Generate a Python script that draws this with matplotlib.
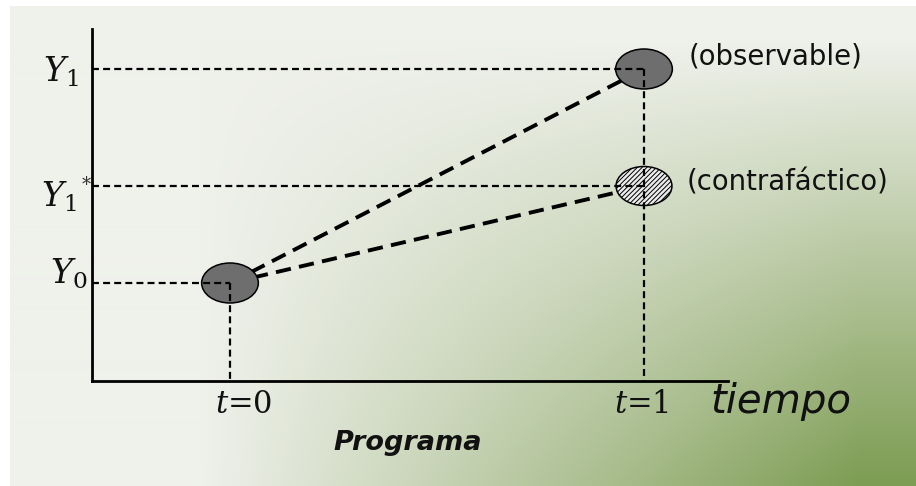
import numpy as np
import matplotlib.pyplot as plt
from matplotlib.patches import Ellipse

plt.rcParams['mathtext.fontset'] = 'dejavuserif'
plt.rcParams['lines.scale_dashes'] = False
plt.rcParams['hatch.linewidth'] = 0.7

# data: periods on x, outcome levels on y
periods = [0, 1]
period_labels = [r"$t$=0", r"$t$=1"]
point_x = [0, 1, 1]
point_y = [0.98, 3.12, 1.95]          # Y0, Y1 (observable), Y1* (contrafactico)
level_labels = [r"$Y_0$", r"$Y_1$", r"$Y_1$"]
point_notes = ["", "(observable)", "(contrafáctico)"]


def make_background(h=486, w=916):
    """ light grey to olive green, greener toward the bottom right """
    yy, xx = np.mgrid[0:h, 0:w]
    tx = np.clip((xx - 200) / 660.0, 0, 1)
    ty = np.clip((yy - 40) / 440.0, 0, 1)
    t = np.clip(tx * ty, 0, 1)[..., None]
    light = np.array([239, 241, 235]) / 255.0
    green = np.array([126, 157, 84]) / 255.0
    img = light * (1 - t) + green * t
    img[:7, :] = 1.0
    img[:, :10] = 1.0
    return img


fig = plt.figure(figsize=(9.16, 4.86), dpi=100)

bg = fig.add_axes([0, 0, 1, 1])
bg.imshow(make_background(), aspect='auto', interpolation='bilinear')
bg.axis('off')
bg.set_zorder(0)

ax = fig.add_axes([92 / 916, 105 / 486, 636 / 916, 352 / 486])
ax.set_zorder(1)
ax.patch.set_alpha(0)
ax.set_xlim(-0.3333, 1.2029)
ax.set_ylim(0, 3.52)
for side in ['top', 'right']:
    ax.spines[side].set_visible(False)
for side in ['left', 'bottom']:
    ax.spines[side].set_linewidth(2)
ax.set_xticks([])
ax.set_yticks([])

y0, y1, y1s = point_y
xmin = ax.get_xlim()[0]

# thick dashed paths from Y0 to both outcomes
for yy in [y1, y1s]:
    ax.plot([periods[0], periods[1]], [y0, yy], color='black', lw=2.8,
            dashes=[11, 6], zorder=2)

# thin guide lines
guide = dict(color='black', lw=1.6, dashes=[5, 3], zorder=4)
for px, py in zip(point_x, point_y):
    ax.plot([xmin, px], [py, py], **guide)
ax.plot([periods[0], periods[0]], [y0, 0], **guide)
ax.plot([periods[1], periods[1]], [y1, 0], **guide)

# the circles
for i, (px, py) in enumerate(zip(point_x, point_y)):
    if i == 2:
        e = Ellipse((px, py), 0.135, 0.39, facecolor='#ececec', edgecolor='black',
                    hatch='///////', lw=1.1, zorder=3)
    else:
        e = Ellipse((px, py), 0.137, 0.40, facecolor='#6e6e6e', edgecolor='black',
                    lw=1.1, zorder=3)
    ax.add_patch(e)

# y level labels
label_offsets = [(-3, 6.5), (-10, -2), (-11, -8)]
for lab, py, off in zip(level_labels, point_y, label_offsets):
    ax.annotate(lab, xy=(0, py), xycoords=('axes fraction', 'data'),
                xytext=off, textcoords='offset points',
                ha='right', va='center', fontsize=24, color='#111111')
ax.annotate('*', xy=(0, y1s), xycoords=('axes fraction', 'data'),
            xytext=(-4, 1), textcoords='offset points', ha='center', va='center',
            fontsize=13, family='DejaVu Serif', color='#333333')

# notes next to the t=1 circles
note_offsets = [None, (32, 3), (31, -3)]
for note, px, py, off in zip(point_notes, point_x, point_y, note_offsets):
    if note:
        ax.annotate(note, xy=(px, py), xytext=off, textcoords='offset points',
                    ha='left', va='baseline', fontsize=19.8, family='DejaVu Sans',
                    color='#111111')

# period labels under the axis
for p, lab, dx in zip(periods, period_labels, [10, -1.5]):
    ax.annotate(lab, xy=(p, 0), xycoords=('data', 'axes fraction'),
                xytext=(dx, -23), textcoords='offset points',
                ha='center', va='baseline', fontsize=22, family='DejaVu Serif',
                color='#111111')

ax.annotate('tiempo', xy=(1, 0), xycoords='axes fraction', xytext=(-13, -23),
            textcoords='offset points', ha='left', va='baseline', fontsize=29,
            family='DejaVu Sans', style='oblique', color='#111111')

fig.text(408 / 916, 1 - 450 / 486, 'Programa', ha='center', va='baseline',
         fontsize=19.5, family='DejaVu Sans', weight='bold', style='oblique',
         color='#111111')

fig.savefig('out.png', dpi=100)
